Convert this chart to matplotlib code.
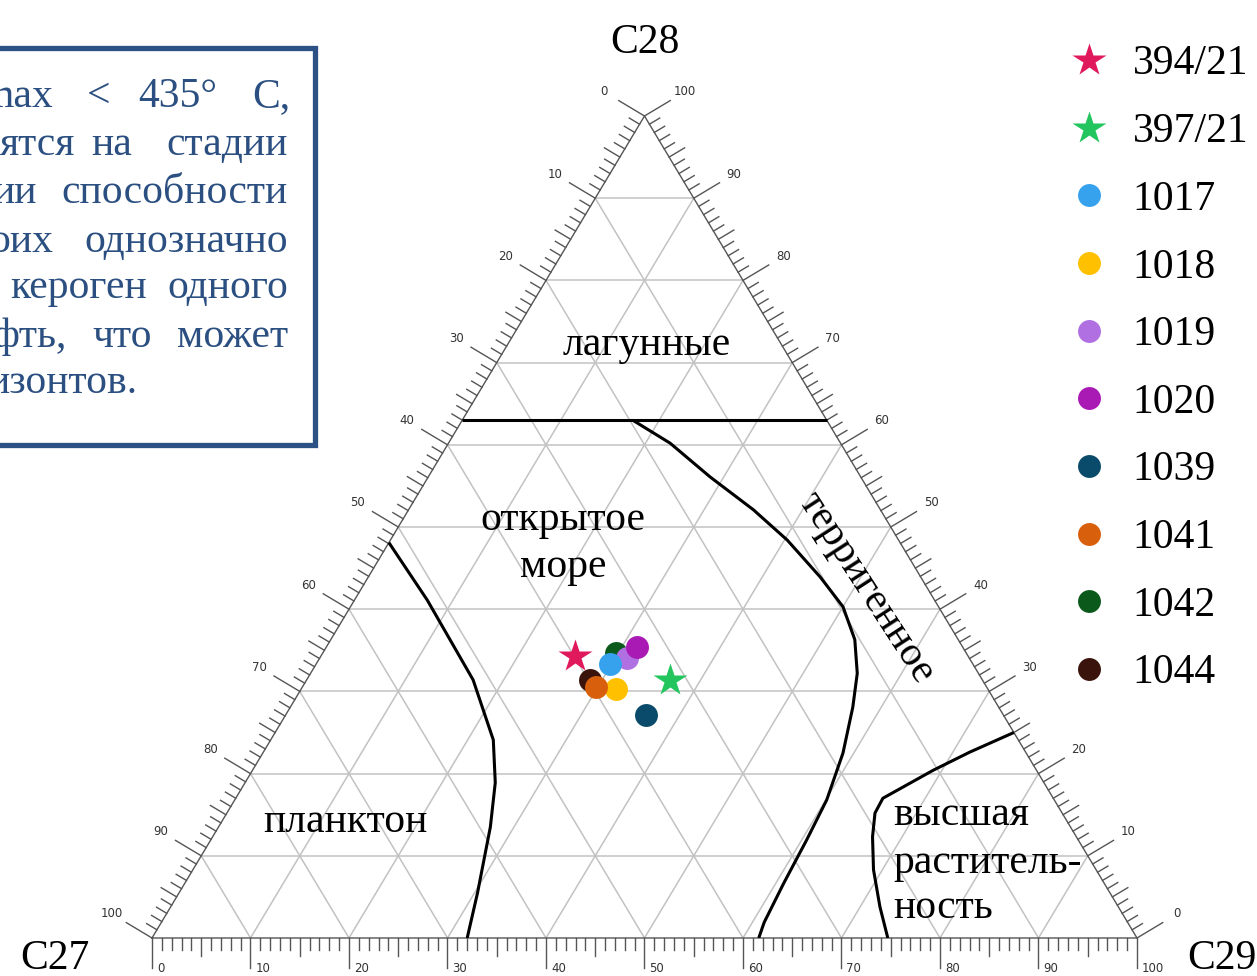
import numpy as np
import matplotlib.pyplot as plt
from matplotlib.patches import Rectangle
from matplotlib.lines import Line2D

W, H = 1257, 976

# samples
names = ['394/21', '397/21', '1017', '1018', '1019', '1020', '1039', '1041', '1042', '1044']
colors = ['#e0185c', '#22c55e', '#36a2ee', '#ffc000', '#b070e2', '#a91ab5',
          '#0a4a6a', '#d8600c', '#0b5a1c', '#3a140c']
markers = ['*', '*', 'o', 'o', 'o', 'o', 'o', 'o', 'o', 'o']
c27 = [39.9, 31.7, 36.9, 37.7, 34.7, 33.1, 36.3, 39.7, 35.5, 39.8]
c28 = [34.3, 31.4, 33.3, 30.3, 34.1, 35.4, 27.1, 30.5, 34.7, 31.4]
c29 = [25.8, 36.9, 29.8, 32.0, 31.2, 31.5, 36.6, 29.8, 29.8, 28.8]
draw_order = ['1042', '1044', '1019', '1020', '1017', '1018', '1041', '1039', '394/21', '397/21']

# facies boundaries (C29, C28)
lagoon_c29 = [0.0, 37.0]
lagoon_c28 = [63.0, 63.0]
plankton_c29 = [0.0, 7.4, 16.9, 22.6, 25.4, 27.6, 30.3, 32.0]
plankton_c28 = [48.1, 41.1, 31.4, 24.1, 18.9, 13.5, 5.5, 0.0]
terr_c29 = [17.3, 22.5, 28.6, 35.0, 40.3, 45.9, 50.0, 53.2, 55.5, 57.1, 58.9, 60.1, 60.5, 60.8, 61.2, 61.6]
terr_c28 = [63.0, 60.2, 56.1, 52.1, 48.4, 43.9, 40.3, 36.3, 32.2, 28.1, 22.5, 16.8, 11.9, 6.7, 1.9, 0.0]
plant_c29 = [75.0, 71.7, 69.1, 67.1, 65.7, 65.8, 67.0, 69.1, 72.0, 74.7]
plant_c28 = [25.0, 22.6, 20.4, 18.4, 17.0, 15.2, 12.3, 8.3, 3.8, 0.0]


def tern(a, b):
    # a = C29 (bottom), b = C28 (top)
    a = np.asarray(a, float)
    b = np.asarray(b, float)
    return a + b / 2, b


def fx(x):
    return x / W


def fy(y):
    return 1 - y / H


fig = plt.figure(figsize=(W / 100, H / 100), dpi=100)
ax = fig.add_axes([152 / W, 38 / H, 985 / W, 822 / H])
ax.set_xlim(0, 100)
ax.set_ylim(0, 100)
ax.axis('off')

sx = ax.bbox.width / 100
sy = ax.bbox.height / 100

# grid
grid_kw = dict(color='#c2c2c2', lw=1.1, zorder=1)
for k in range(10, 100, 10):
    ax.plot(*tern([0, 100 - k], [k, k]), **grid_kw)
    ax.plot(*tern([k, k], [0, 100 - k]), **grid_kw)
    ax.plot(*tern([100 - k, 0], [0, 100 - k]), **grid_kw)

# outline
ax.plot(*tern([0, 100, 0, 0], [0, 0, 100, 0]), color='#555555', lw=1.0, zorder=2, clip_on=False)

# ticks
edge = np.array([50 * sx, 100 * sy])
edge /= np.linalg.norm(edge)
n_left = np.array([-edge[1], edge[0]])
n_right = np.array([edge[1], edge[0]])
n_bottom = np.array([0.0, -1.0])
tick_kw = dict(color='#555555', lw=1.0, clip_on=False, zorder=2)
lab_kw = dict(fontsize=8.5, color='#333333', family='DejaVu Sans')

for i in range(101):
    L = 30 if i % 10 == 0 else (18 if i % 5 == 0 else 12)
    axes_pts = [
        (tern(i, 0), n_bottom),            # C29
        (tern(0, 100 - i), n_left),        # C27
        (tern(100 - i, i), n_right),       # C28
    ]
    for j, ((x0, y0), n) in enumerate(axes_pts):
        x1 = x0 + L * n[0] / sx
        y1 = y0 + L * n[1] / sy
        ax.plot([x0, x1], [y0, y1], **tick_kw)
        if i % 10 == 0:
            if j == 0:
                ax.text(x0 + 5 / sx, y1, str(i), ha='left', va='center', **lab_kw)
            else:
                ax.text(x0 + 47 * n[0] / sx, y0 + 47 * n[1] / sy, str(i),
                        ha='center', va='center', **lab_kw)

# boundaries
line_kw = dict(color='black', lw=2.2, zorder=3, solid_capstyle='butt')
for a, b in [(lagoon_c29, lagoon_c28), (plankton_c29, plankton_c28),
             (terr_c29, terr_c28), (plant_c29, plant_c28)]:
    ax.plot(*tern(a, b), **line_kw)

# samples
for nm in draw_order:
    i = names.index(nm)
    ms = 25 if markers[i] == '*' else 16.5
    ax.plot(*tern([c29[i]], [c28[i]]), marker=markers[i], color=colors[i],
            ms=ms, ls='none', mec='none', zorder=4)

serif = 'Liberation Serif'
fs = 30

# region labels
fig.text(fx(647), fy(355), 'лагунные', ha='center', va='baseline', family=serif, fontsize=fs)
fig.text(fx(563), fy(530), 'открытое', ha='center', va='baseline', family=serif, fontsize=fs)
fig.text(fx(563), fy(577), 'море', ha='center', va='baseline', family=serif, fontsize=fs)
fig.text(fx(428), fy(832), 'планктон', ha='right', va='baseline', family=serif, fontsize=fs)
for t, y in [('высшая', 825), ('раститель-', 873), ('ность', 918)]:
    fig.text(fx(893), fy(y), t, ha='left', va='baseline', family=serif, fontsize=fs)
fig.text(fx(866), fy(588), 'терригенное', ha='center', va='center', rotation=-57,
         rotation_mode='anchor', family=serif, fontsize=fs)

# vertex labels
fig.text(fx(645), fy(43), 'C28', ha='center', va='center', family=serif, fontsize=fs)
fig.text(fx(55), fy(959), 'C27', ha='center', va='center', family=serif, fontsize=fs)
fig.text(fx(1222), fy(959), 'C29', ha='center', va='center', family=serif, fontsize=fs)

# text box (cut by left edge)
blue = '#2b4f80'
fig.patches.append(Rectangle((fx(-20), fy(445)), fx(335), (445 - 48) / H, transform=fig.transFigure,
                             fill=False, edgecolor='#2b5185', lw=3.8, zorder=5))
box_words = [
    (107, [('max', 53), ('<', 110), ('435°', 217), ('C,', 290)]),
    (155, [('ятся', 75), ('на', 132), ('стадии', 288)]),
    (203, [('ии', 37), ('способности', 288)]),
    (252, [('оих', 53), ('однозначно', 288)]),
    (298, [('кероген', 147), ('одного', 288)]),
    (347, [('фть,', 67), ('что', 152), ('может', 288)]),
    (393, [('изонтов.', 137)]),
]
for y, words in box_words:
    for w, xr in words:
        fig.text(fx(xr), fy(y), w, ha='right', va='baseline', family=serif,
                 fontsize=fs, color=blue)

# legend
handles = [Line2D([], [], marker=m, color=c, ls='none', mec='none',
                  ms=25 if m == '*' else 16.5) for m, c in zip(markers, colors)]
fig.legend(handles, names, loc='upper left', bbox_to_anchor=(fx(1068), fy(45)),
           frameon=False, prop={'family': serif, 'size': fs}, handlelength=1.0,
           handletextpad=0.55, labelspacing=0.70, borderpad=0, borderaxespad=0)

fig.savefig('out.png', dpi=100)
